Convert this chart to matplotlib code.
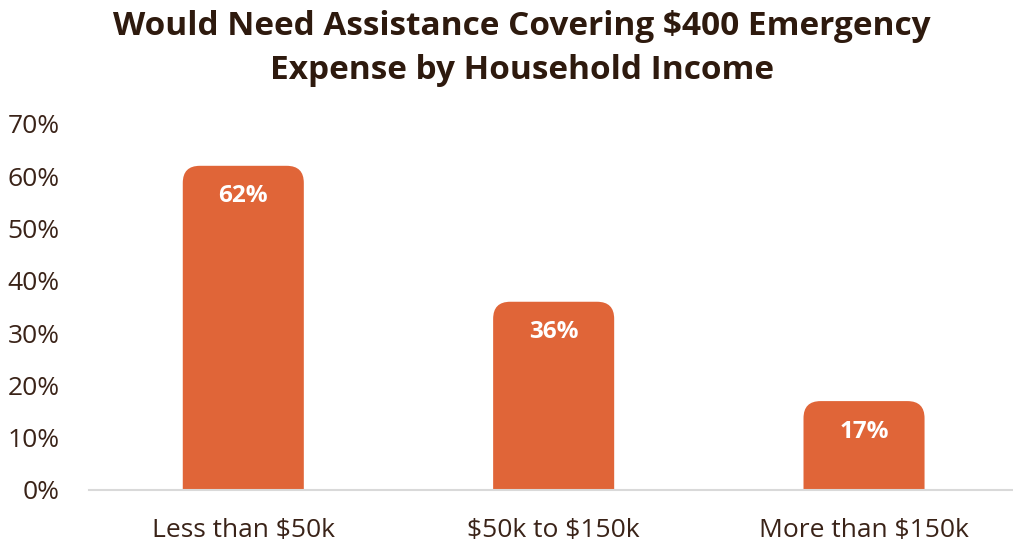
import matplotlib
matplotlib.use("Agg")
import matplotlib.pyplot as plt
from matplotlib.patches import FancyBboxPatch
from matplotlib.ticker import FuncFormatter, MultipleLocator

categories = ["Less than $50k", "$50k to $150k", "More than $150k"]
values = [62, 36, 17]
title = "Would Need Assistance Covering $400 Emergency\nExpense by Household Income"

BAR_COLOR = "#E06538"
TEXT_COLOR = "#3A2318"
TITLE_COLOR = "#2E1A0E"

plt.rcParams["font.family"] = ["Open Sans", "DejaVu Sans"]
plt.rcParams["text.parse_math"] = False

fig = plt.figure(figsize=(10.13, 5.44), dpi=100)
ax = fig.add_axes([0.0879, 0.0993, 0.9121, 0.6728])

ax.set_xlim(-0.497, 2.48)
ax.set_ylim(0, 70)

bar_w = 0.39
# rounded top corners: radius in data units for x and y
rx = 0.055
ry = rx * (70 / 0.6728 / 5.44) / (2.977 / 0.9121 / 10.13)
for i, v in enumerate(values):
    box = FancyBboxPatch((i - bar_w / 2, -ry * 2), bar_w, v + ry * 2,
                         boxstyle=f"round,pad=0,rounding_size={rx}",
                         mutation_aspect=ry / rx,
                         facecolor=BAR_COLOR, edgecolor="none", zorder=2)
    ax.add_patch(box)
    ax.annotate(f"{v}%", xy=(i, v), xytext=(0, -22), textcoords="offset points",
                ha="center", va="center", color="white", fontsize=17.5,
                fontweight="bold", zorder=3)

ax.set_xticks(range(len(categories)))
ax.set_xticklabels(categories, fontsize=19, color=TEXT_COLOR)
ax.yaxis.set_major_locator(MultipleLocator(10))
ax.yaxis.set_major_formatter(FuncFormatter(lambda y, _: f"{y:.0f}%"))
ax.tick_params(axis="y", labelsize=19, labelcolor=TEXT_COLOR, length=0, pad=21)
ax.tick_params(axis="x", length=0, pad=20)

for s in ["top", "right", "left"]:
    ax.spines[s].set_visible(False)
ax.spines["bottom"].set_color("#D9D9D9")
ax.spines["bottom"].set_linewidth(1.5)
ax.spines["bottom"].set_zorder(3)

fig.text(0.515, 0.982, title, ha="center", va="top", fontsize=24,
         fontweight="bold", color=TITLE_COLOR, linespacing=1.45)

fig.savefig("out.png", dpi=100)
